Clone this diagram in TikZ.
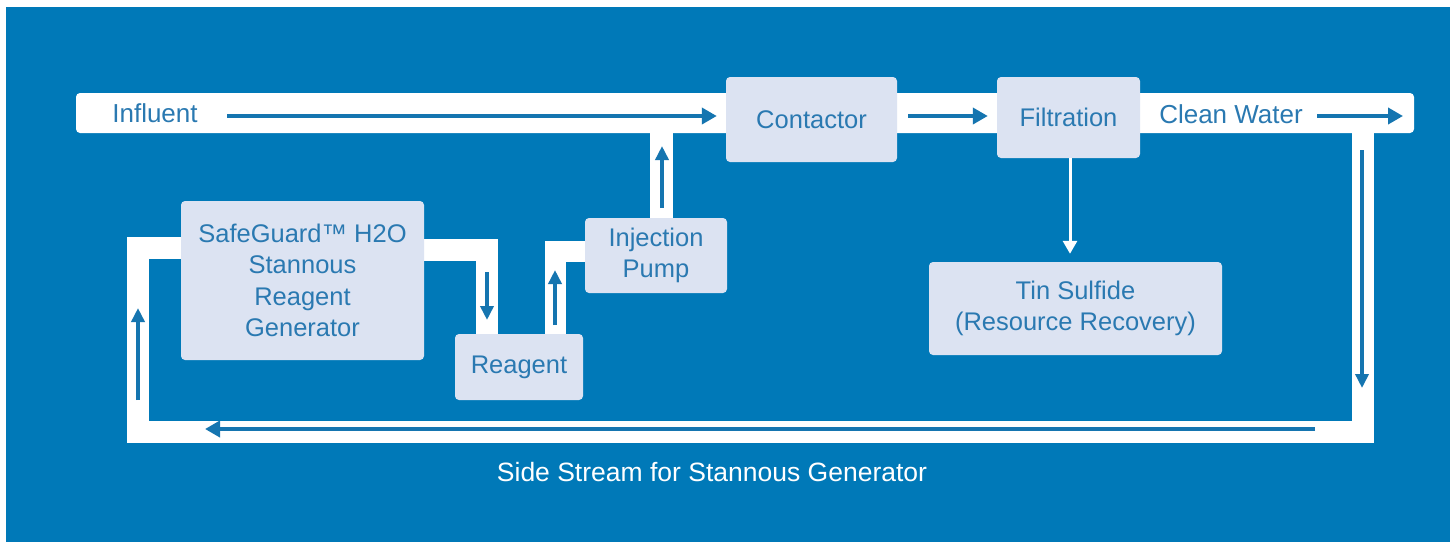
\documentclass[tikz,border=0pt]{standalone}
\usepackage{fontspec}
\setmainfont{Liberation Sans}
\usetikzlibrary{arrows.meta}
\definecolor{bgblue}{HTML}{0079B8}
\definecolor{boxfill}{HTML}{DCE3F2}
\definecolor{txtblue}{HTML}{2A79B1}
\definecolor{arrblue}{HTML}{1575B0}
\pgfdeclarelayer{bglayer}
\pgfdeclarelayer{pipelayer}
\pgfsetlayers{bglayer,pipelayer,main}
\begin{document}
\begin{tikzpicture}[x=1pt,y=-1pt,
  box/.style={fill=boxfill, rounded corners=4pt, text=txtblue, align=center,
    font=\fontsize{25.5}{31.5}\selectfont, inner sep=0pt},
  bartext/.style={text=txtblue, font=\fontsize{26}{31}\selectfont, inner sep=0pt},
  pipe/.style={draw=white, line width=22pt},
  flow/.style={draw=arrblue, line width=4.5pt, -{Triangle[length=15pt,width=16pt]}},
  sflow/.style={draw=arrblue, line width=4pt, -{Triangle[length=14pt,width=13pt]}},
  wflow/.style={draw=white, line width=3pt, -{Triangle[length=13pt,width=14pt]}}]
\useasboundingbox (0,0) rectangle (1450,542);
\begin{pgfonlayer}{bglayer}
  \fill[white] (0,0) rectangle (1450,542);
  \fill[bgblue] (6,7) rectangle (1450,542);
\end{pgfonlayer}
% main flow bar
\node[fill=white, rounded corners=4pt, minimum width=1338pt, minimum height=40pt, inner sep=0pt] (mainbar) at (745,113) {};
% boxes
\node[box, minimum width=171pt, minimum height=85pt] (contactor) at (811.5,119.5) {Contactor};
\node[box, minimum width=143pt, minimum height=81pt] (filtration) at (1068.5,117.5) {Filtration};
\node[box, minimum width=293pt, minimum height=93pt] (tin) at (1075.5,308.5) {Tin Sulfide\\(Resource Recovery)};
\node[box, minimum width=243pt, minimum height=159pt] (safeguard) at (302.5,280.5) {SafeGuard™ H2O\\Stannous\\Reagent\\Generator};
\node[box, minimum width=128pt, minimum height=66pt] (reagent) at (519,367) {Reagent};
\node[box, minimum width=142pt, minimum height=75pt] (pump) at (656,255.5) {Injection\\Pump};
% bar texts
\node[bartext] (influent) at (155,113) {Influent};
\node[bartext] (clean) at (1231,114) {Clean Water};
\node[text=white, font=\fontsize{26.5}{31}\selectfont, inner sep=0pt] (side) at (712,472) {Side Stream for Stannous Generator};
% pipes
\begin{pgfonlayer}{pipelayer}
  \draw[pipe] (safeguard.center |- 0,250) -| (486.5,0 |- reagent.center);
  \draw[pipe, line width=21pt] (555.5,0 |- reagent.center) |- (pump.center |- 0,251);
  \draw[pipe, line width=23pt] (661.5,0 |- pump.center) -- (661.5,0 |- mainbar.center);
  \draw[pipe] (1363,0 |- mainbar.center) -- (1363,431.5) -- (137.5,431.5) -- (137.5,248) -- (safeguard.center |- 0,248);
\end{pgfonlayer}
% arrows
\draw[flow, shorten >=9pt] (227,116) -- (contactor.west |- 0,116);
\draw[flow, shorten <=11pt, shorten >=9pt] (contactor.east |- 0,116) -- (filtration.west |- 0,116);
\draw[flow] (1317,116) -- (1403,116);
\draw[sflow] (1362,150) -- (1362,388);
\draw[flow] (1315,429) -- (205,429);
\draw[sflow] (138,400) -- (138,308);
\draw[sflow] (487,272) -- (487,320);
\draw[sflow] (555,325) -- (555,270);
\draw[sflow] (662,208) -- (662,146);
\draw[wflow, shorten >=8pt] (1070,0 |- filtration.south) -- (1070,0 |- tin.north);
\end{tikzpicture}
\end{document}
